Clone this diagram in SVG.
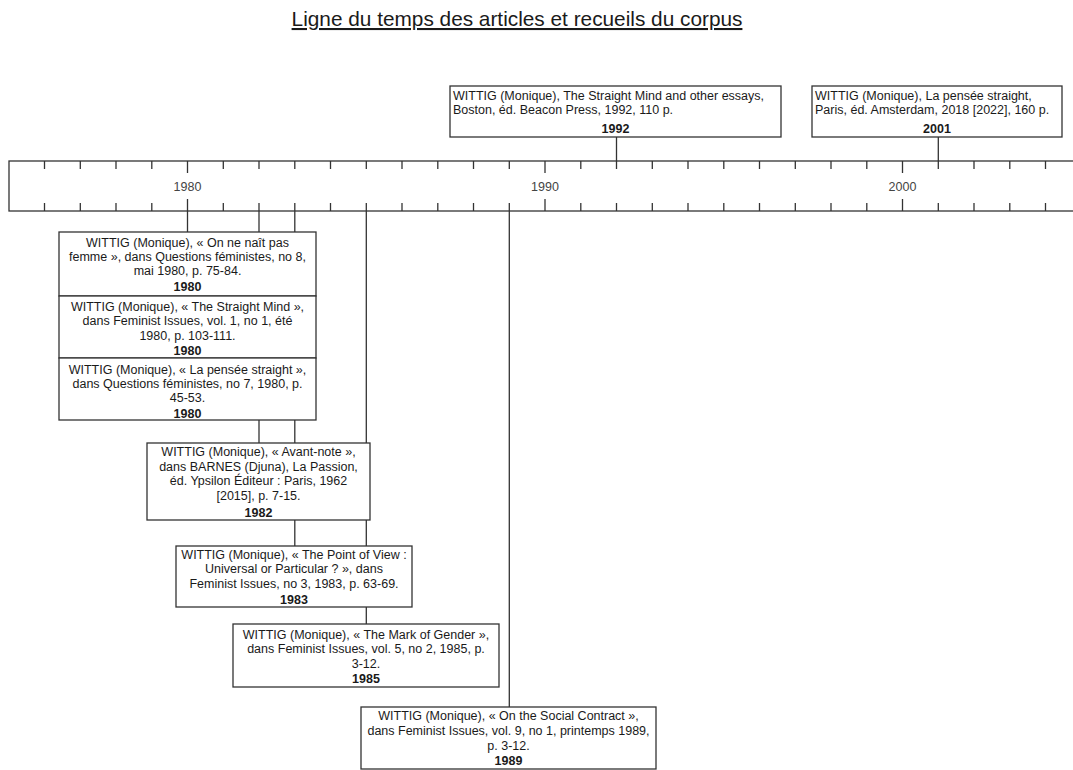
<svg xmlns="http://www.w3.org/2000/svg" width="1073" height="770" viewBox="0 0 1073 770">
<style>
text{font-family:"Liberation Sans",Arial,sans-serif;fill:#1a1a1a;}
.t{font-size:12.5px;text-anchor:middle;}
.l{font-size:12.5px;text-anchor:start;}
.y{font-size:12.5px;font-weight:bold;text-anchor:middle;}
.ax{font-size:12.5px;text-anchor:middle;fill:#444;}
.box{fill:#fff;stroke:#333;stroke-width:1.3;}
.tick{stroke:#333;stroke-width:1.3;}
.con{stroke:#333;stroke-width:1.3;fill:none;}
.title{font-size:20.8px;text-anchor:middle;text-decoration:underline;}
</style>
<rect width="1073" height="770" fill="#fff"/>
<text class="title" x="517" y="26">Ligne du temps des articles et recueils du corpus</text>

<g id="axis">
<rect x="9" y="161" width="1080" height="50" fill="#fff" stroke="#333" stroke-width="1.3"/>
<g class="tick">
<line x1="44.5" y1="161" x2="44.5" y2="169"/><line x1="44.5" y1="203" x2="44.5" y2="211"/>
<line x1="80.3" y1="161" x2="80.3" y2="169"/><line x1="80.3" y1="203" x2="80.3" y2="211"/>
<line x1="116" y1="161" x2="116" y2="169"/><line x1="116" y1="203" x2="116" y2="211"/>
<line x1="151.8" y1="161" x2="151.8" y2="169"/><line x1="151.8" y1="203" x2="151.8" y2="211"/>
<line x1="187.5" y1="161" x2="187.5" y2="173"/><line x1="187.5" y1="199" x2="187.5" y2="211"/>
<line x1="223.3" y1="161" x2="223.3" y2="169"/><line x1="223.3" y1="203" x2="223.3" y2="211"/>
<line x1="259" y1="161" x2="259" y2="169"/><line x1="259" y1="203" x2="259" y2="211"/>
<line x1="294.8" y1="161" x2="294.8" y2="169"/><line x1="294.8" y1="203" x2="294.8" y2="211"/>
<line x1="330.5" y1="161" x2="330.5" y2="169"/><line x1="330.5" y1="203" x2="330.5" y2="211"/>
<line x1="366.3" y1="161" x2="366.3" y2="169"/><line x1="366.3" y1="203" x2="366.3" y2="211"/>
<line x1="402" y1="161" x2="402" y2="169"/><line x1="402" y1="203" x2="402" y2="211"/>
<line x1="437.8" y1="161" x2="437.8" y2="169"/><line x1="437.8" y1="203" x2="437.8" y2="211"/>
<line x1="473.5" y1="161" x2="473.5" y2="169"/><line x1="473.5" y1="203" x2="473.5" y2="211"/>
<line x1="509.3" y1="161" x2="509.3" y2="169"/><line x1="509.3" y1="203" x2="509.3" y2="211"/>
<line x1="545" y1="161" x2="545" y2="173"/><line x1="545" y1="199" x2="545" y2="211"/>
<line x1="580.8" y1="161" x2="580.8" y2="169"/><line x1="580.8" y1="203" x2="580.8" y2="211"/>
<line x1="616.5" y1="161" x2="616.5" y2="169"/><line x1="616.5" y1="203" x2="616.5" y2="211"/>
<line x1="652.3" y1="161" x2="652.3" y2="169"/><line x1="652.3" y1="203" x2="652.3" y2="211"/>
<line x1="688" y1="161" x2="688" y2="169"/><line x1="688" y1="203" x2="688" y2="211"/>
<line x1="723.8" y1="161" x2="723.8" y2="169"/><line x1="723.8" y1="203" x2="723.8" y2="211"/>
<line x1="759.5" y1="161" x2="759.5" y2="169"/><line x1="759.5" y1="203" x2="759.5" y2="211"/>
<line x1="795.3" y1="161" x2="795.3" y2="169"/><line x1="795.3" y1="203" x2="795.3" y2="211"/>
<line x1="831" y1="161" x2="831" y2="169"/><line x1="831" y1="203" x2="831" y2="211"/>
<line x1="866.8" y1="161" x2="866.8" y2="169"/><line x1="866.8" y1="203" x2="866.8" y2="211"/>
<line x1="902.5" y1="161" x2="902.5" y2="173"/><line x1="902.5" y1="199" x2="902.5" y2="211"/>
<line x1="938.3" y1="161" x2="938.3" y2="169"/><line x1="938.3" y1="203" x2="938.3" y2="211"/>
<line x1="974" y1="161" x2="974" y2="169"/><line x1="974" y1="203" x2="974" y2="211"/>
<line x1="1009.8" y1="161" x2="1009.8" y2="169"/><line x1="1009.8" y1="203" x2="1009.8" y2="211"/>
<line x1="1045.5" y1="161" x2="1045.5" y2="169"/><line x1="1045.5" y1="203" x2="1045.5" y2="211"/>
</g>
<text class="ax" x="187.5" y="190.5">1980</text>
<text class="ax" x="545" y="190.5">1990</text>
<text class="ax" x="902.5" y="190.5">2000</text>
</g>

<g id="connectors" class="con">
<line x1="187.5" y1="211" x2="187.5" y2="232"/>
<line x1="259" y1="211" x2="259" y2="443"/>
<line x1="294.8" y1="211" x2="294.8" y2="546"/>
<line x1="366.3" y1="211" x2="366.3" y2="624"/>
<line x1="509.3" y1="211" x2="509.3" y2="707"/>
<line x1="616.5" y1="137" x2="616.5" y2="161"/>
<line x1="938.3" y1="137" x2="938.3" y2="161"/>
</g>

<g id="n1992">
<rect class="box" x="450" y="86" width="331" height="51"/>
<text class="l" x="453" y="100">WITTIG (Monique), The Straight Mind and other essays,</text>
<text class="l" x="453" y="114">Boston, éd. Beacon Press, 1992, 110 p.</text>
<text class="y" x="615.5" y="133">1992</text>
</g>

<g id="n2001">
<rect class="box" x="812" y="86" width="250" height="51"/>
<text class="l" x="815" y="100">WITTIG (Monique), La pensée straight,</text>
<text class="l" x="815" y="114">Paris, éd. Amsterdam, 2018 [2022], 160 p.</text>
<text class="y" x="937" y="133">2001</text>
</g>

<g id="n1980a">
<rect class="box" x="59" y="232" width="257" height="64"/>
<text class="t" x="187.5" y="246.5">WITTIG (Monique), « On ne naît pas</text>
<text class="t" x="187.5" y="261">femme », dans Questions féministes, no 8,</text>
<text class="t" x="187.5" y="275">mai 1980, p. 75-84.</text>
<text class="y" x="187.5" y="291">1980</text>
</g>

<g id="n1980b">
<rect class="box" x="59" y="296" width="257" height="62"/>
<text class="t" x="187.5" y="311">WITTIG (Monique), « The Straight Mind »,</text>
<text class="t" x="187.5" y="325">dans Feminist Issues, vol. 1, no 1, été</text>
<text class="t" x="187.5" y="339.5">1980, p. 103-111.</text>
<text class="y" x="187.5" y="354.5">1980</text>
</g>

<g id="n1980c">
<rect class="box" x="59" y="358" width="257" height="62"/>
<text class="t" x="187.5" y="373.5">WITTIG (Monique), « La pensée straight »,</text>
<text class="t" x="187.5" y="388">dans Questions féministes, no 7, 1980, p.</text>
<text class="t" x="187.5" y="402">45-53.</text>
<text class="y" x="187.5" y="418">1980</text>
</g>

<g id="n1982">
<rect class="box" x="147" y="443" width="223" height="77"/>
<text class="t" x="258.5" y="456">WITTIG (Monique), « Avant-note »,</text>
<text class="t" x="258.5" y="470.5">dans BARNES (Djuna), La Passion,</text>
<text class="t" x="258.5" y="485">éd. Ypsilon Éditeur : Paris, 1962</text>
<text class="t" x="258.5" y="499.5">[2015], p. 7-15.</text>
<text class="y" x="258.5" y="517">1982</text>
</g>

<g id="n1983">
<rect class="box" x="176" y="546" width="236" height="61"/>
<text class="t" x="294" y="559">WITTIG (Monique), « The Point of View :</text>
<text class="t" x="294" y="573">Universal or Particular ? », dans</text>
<text class="t" x="294" y="588">Feminist Issues, no 3, 1983, p. 63-69.</text>
<text class="y" x="294" y="603.5">1983</text>
</g>

<g id="n1985">
<rect class="box" x="233" y="624" width="266" height="63"/>
<text class="t" x="366" y="639">WITTIG (Monique), « The Mark of Gender »,</text>
<text class="t" x="366" y="653">dans Feminist Issues, vol. 5, no 2, 1985, p.</text>
<text class="t" x="366" y="668">3-12.</text>
<text class="y" x="366" y="683">1985</text>
</g>

<g id="n1989">
<rect class="box" x="361" y="707" width="295" height="62"/>
<text class="t" x="508.5" y="720">WITTIG (Monique), « On the Social Contract »,</text>
<text class="t" x="508.5" y="734.5">dans Feminist Issues, vol. 9, no 1, printemps 1989,</text>
<text class="t" x="508.5" y="749.5">p. 3-12.</text>
<text class="y" x="508.5" y="765">1989</text>
</g>
</svg>
